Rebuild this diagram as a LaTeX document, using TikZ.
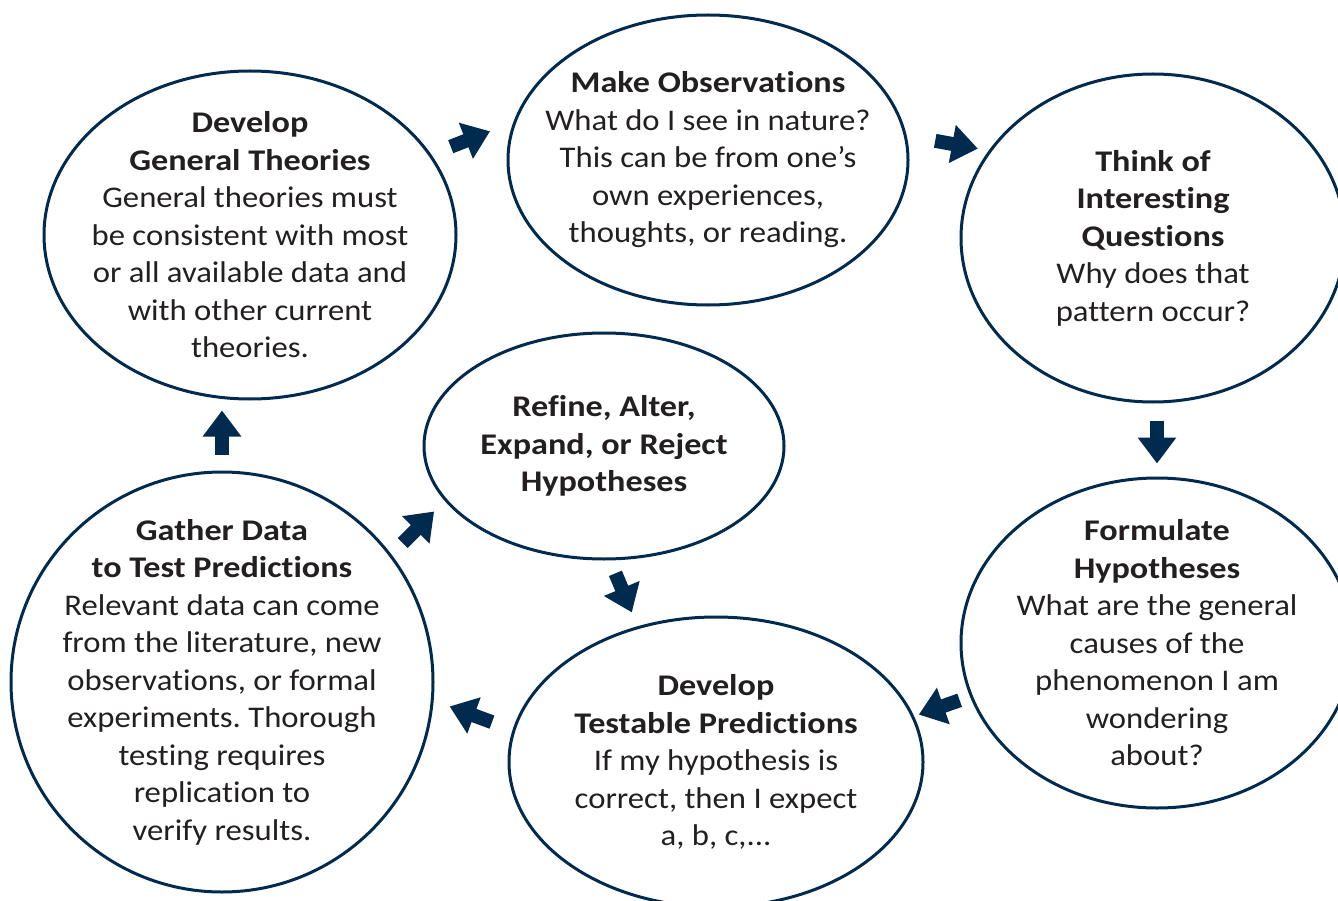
\documentclass[tikz,border=0pt]{standalone}
\usepackage{fontspec}
\setmainfont{Carlito}[Ligatures=NoCommon,FakeStretch=1.09,BoldFeatures={FakeStretch=1.14}]
\usetikzlibrary{shapes.geometric,arrows.meta}
\definecolor{navy}{HTML}{002B4F}
\definecolor{ink}{HTML}{231F20}
\frenchspacing
\tikzset{
stage/.style={draw=navy,line width=3pt,ellipse,inner sep=0pt},
stagetext/.style={align=center,text=ink,font=\fontsize{30}{37.5}\selectfont},
flow/.style={draw=navy,line width=14pt,-{Triangle[width=37pt,length=26pt]}}
}

\begin{document}
\begin{tikzpicture}[x=1pt,y=-1pt]
\path[use as bounding box,fill=white] (0,0) rectangle (1338,901);

\node[stage,minimum width=412pt,minimum height=328pt] (theory)   at (250,235)  {};
\node[stage,minimum width=400pt,minimum height=290pt] (observe)  at (708,160)  {};
\node[stage,minimum width=384pt,minimum height=328pt] (question) at (1153,238) {};
\node[stage,minimum width=392pt,minimum height=330pt] (hypo)     at (1157,643) {};
\node[stage,minimum width=414pt,minimum height=290pt] (predict)  at (716,762)  {};
\node[stage,minimum width=422pt,minimum height=420pt] (gather)   at (222,682)  {};
\node[stage,minimum width=360pt,minimum height=226pt] (refine)   at (604,446)  {};

\node[stagetext] (theorytext)   at (theory)   {\textbf{Develop}\\ \textbf{General Theories}\\ General theories must\\ be consistent with most\\ or all available data and\\ with other current\\ theories.};
\node[stagetext] (observetext)  at (observe)  {\textbf{Make Observations}\\ What do I see in nature?\\ This can be from one’s\\ own experiences,\\ thoughts, or reading.};
\node[stagetext] (questiontext) at (question) {\textbf{Think of}\\ \textbf{Interesting}\\ \textbf{Questions}\\ Why does that\\ pattern occur?};
\node[stagetext] (hypotext)     at (hypo)     {\textbf{Formulate}\\ \textbf{Hypotheses}\\ What are the general\\ causes of the\\ phenomenon I am\\ wondering\\ about?};
\node[stagetext] (predicttext)  at (predict)  {\textbf{Develop}\\ \textbf{Testable Predictions}\\ If my hypothesis is\\ correct, then I expect\\ a, b, c,...};
\node[stagetext] (gathertext)   at (gather)   {\textbf{Gather Data}\\ \textbf{to Test Predictions}\\ Relevant data can come\\ from the literature, new\\ observations, or formal\\ experiments. Thorough\\ testing requires\\ replication to\\ verify results.};
\node[stagetext] (refinetext)   at (refine)   {\textbf{Refine, Alter,}\\ \textbf{Expand, or Reject}\\ \textbf{Hypotheses}};

% the cycle
\draw[flow,shorten <=21pt,shorten >=25pt] (theory.24.6) -- (observe.169);
\draw[flow,shorten <=29pt,shorten >=11pt] (observe.7.9) -- (question.152.9);
\draw[flow,shorten <=17pt,shorten >=13pt] (question.south -| hypo.north) -- (hypo.north);
\draw[flow,shorten <=11pt,shorten >=5pt]  (hypo.196.1) -- (predict.13.3);
\draw[flow,shorten <=22pt,shorten >=17pt] (predict.171.3) -- (gather.-5.9);
\draw[flow,shorten <=16pt,shorten >=10pt] (gather.north) -- (gather.north |- theory.south);
\draw[flow,shorten <=16pt,shorten >=15pt] (gather.37.7) -- (refine.199.1);
\draw[flow,shorten <=14pt,shorten >=15pt] (refine.-87.7) -- (predict.120.2);
\end{tikzpicture}
\end{document}
